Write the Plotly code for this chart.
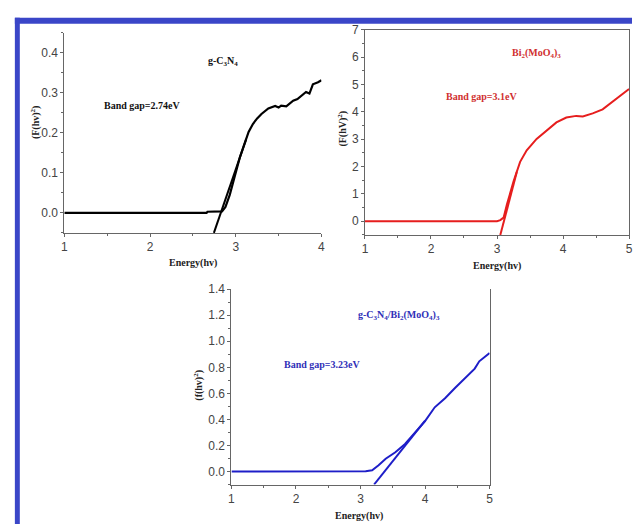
import plotly.graph_objects as go

W, H = 636, 524

# ---- data ----
gcn_energy = [1.0, 2.0, 2.66, 2.67, 2.84, 2.88, 2.93, 2.98, 3.05, 3.15, 3.20, 3.25, 3.30, 3.38, 3.46,
              3.50, 3.53, 3.59, 3.63, 3.67, 3.72, 3.75, 3.82, 3.86, 3.88, 3.90, 3.96, 4.0]
gcn_value = [0.0, 0.0, 0.0, 0.003, 0.004, 0.015, 0.045, 0.085, 0.14, 0.202, 0.222, 0.236, 0.247, 0.261,
             0.267, 0.263, 0.268, 0.266, 0.272, 0.280, 0.284, 0.290, 0.302, 0.298, 0.312, 0.321, 0.326, 0.331]
gcn_tangent_x = [2.745, 3.12]
gcn_tangent_y = [-0.05, 0.183]

bmo_energy = [1.0, 2.0, 3.0, 3.05, 3.10, 3.15, 3.25, 3.35, 3.45, 3.60, 3.75, 3.90, 4.05, 4.20, 4.30,
              4.45, 4.60, 4.70, 4.82, 5.0]
bmo_value = [0.0, 0.0, 0.0, 0.04, 0.13, 0.61, 1.45, 2.17, 2.59, 3.01, 3.31, 3.61, 3.79, 3.85, 3.83,
             3.94, 4.09, 4.27, 4.51, 4.83]
bmo_tangent_x = [3.05, 3.30]
bmo_tangent_y = [-0.5, 1.8]

comp_energy = [1.0, 2.0, 3.0, 3.08, 3.18, 3.28, 3.39, 3.54, 3.69, 3.85, 4.0, 4.15, 4.31, 4.46, 4.61,
               4.77, 4.84, 4.97, 5.0]
comp_value = [0.0, 0.0, 0.0, 0.002, 0.01, 0.048, 0.098, 0.148, 0.211, 0.30, 0.387, 0.493, 0.563, 0.639,
              0.714, 0.79, 0.846, 0.903, 0.91]
comp_tangent_x = [3.21, 4.0]
comp_tangent_y = [-0.1, 0.39]


def px(x):
    return x / W


def py(y):
    return 1 - y / H


fig = go.Figure()

BLACK = "#000000"
RED = "#e61e1e"
BLUE = "#1e1ec8"

fig.add_trace(go.Scatter(x=gcn_energy, y=gcn_value, mode="lines", line=dict(color=BLACK, width=2.2),
                         xaxis="x", yaxis="y", showlegend=False))
fig.add_trace(go.Scatter(x=gcn_tangent_x, y=gcn_tangent_y, mode="lines", line=dict(color=BLACK, width=2),
                         xaxis="x", yaxis="y", showlegend=False))
fig.add_trace(go.Scatter(x=bmo_energy, y=bmo_value, mode="lines", line=dict(color=RED, width=2),
                         xaxis="x2", yaxis="y2", showlegend=False))
fig.add_trace(go.Scatter(x=bmo_tangent_x, y=bmo_tangent_y, mode="lines", line=dict(color=RED, width=2),
                         xaxis="x2", yaxis="y2", showlegend=False))
fig.add_trace(go.Scatter(x=comp_energy, y=comp_value, mode="lines", line=dict(color=BLUE, width=2),
                         xaxis="x3", yaxis="y3", showlegend=False))
fig.add_trace(go.Scatter(x=comp_tangent_x, y=comp_tangent_y, mode="lines", line=dict(color=BLUE, width=2),
                         xaxis="x3", yaxis="y3", showlegend=False))

tickfont = dict(family="Liberation Sans, Arial", size=12, color="#444444")
AX = "#666666"


def axis_common(**kw):
    d = dict(showgrid=False, zeroline=False, showline=True, linecolor=AX, linewidth=1,
             ticks="outside", ticklen=3, tickcolor=AX, tickfont=tickfont,
             minor=dict(ticks="outside", ticklen=2, tickcolor=AX))
    d.update(kw)
    return d


fig.update_layout(
    width=W, height=H,
    margin=dict(l=0, r=0, t=0, b=0),
    paper_bgcolor="white", plot_bgcolor="white",
    xaxis=axis_common(domain=[px(62), px(322)], range=[1, 4], dtick=1, tick0=1,
                      minor=dict(ticks="outside", ticklen=2, tickcolor=AX, dtick=0.5), anchor="y"),
    yaxis=axis_common(domain=[py(229), py(26)], range=[-0.05, 0.45], dtick=0.1, tick0=0,
                      tickformat=".1f", minor=dict(ticks="outside", ticklen=2, tickcolor=AX, dtick=0.05),
                      anchor="x"),
    xaxis2=axis_common(domain=[px(366), px(633)], range=[1, 5], dtick=1, tick0=1, mirror=True,
                       minor=dict(ticks="outside", ticklen=2, tickcolor=AX, dtick=0.5), anchor="y2"),
    yaxis2=axis_common(domain=[py(231), py(23)], range=[-0.5, 7], dtick=1, tick0=0, mirror=True,
                       minor=dict(ticks="outside", ticklen=2, tickcolor=AX, dtick=0.5), anchor="x2"),
    xaxis3=axis_common(domain=[px(231), px(492)], range=[1, 5], dtick=1, tick0=1,
                       minor=dict(ticks="outside", ticklen=2, tickcolor=AX, dtick=0.5), anchor="y3"),
    yaxis3=axis_common(domain=[py(484), py(286)], range=[-0.1, 1.4], dtick=0.2, tick0=0, mirror=True,
                       tickformat=".1f", minor=dict(ticks="outside", ticklen=2, tickcolor=AX, dtick=0.1),
                       anchor="x3"),
)

# blue frame bands
BAND = "rgb(58,70,200)"
fig.add_shape(type="rect", xref="paper", yref="paper", x0=px(12), x1=px(636), y0=py(17), y1=py(11),
              fillcolor=BAND, line=dict(width=0), layer="above")
fig.add_shape(type="rect", xref="paper", yref="paper", x0=px(12), x1=px(17), y0=py(524), y1=py(11),
              fillcolor=BAND, line=dict(width=0), layer="above")

SERIF = "Liberation Serif, Times New Roman, serif"


def note(text, x, y, color, size=10, angle=0):
    fig.add_annotation(text=f"<b>{text}</b>", xref="paper", yref="paper", x=px(x), y=py(y),
                       xanchor="center", yanchor="middle", showarrow=False, textangle=angle,
                       font=dict(family=SERIF, size=size, color=color))


# axis titles
note("Energy(hv)", 192, 259, "#222222")
note("Energy(hv)", 500, 263, "#222222")
note("Energy(hv)", 360, 516, "#222222")
note("(F(hv)<sup>2</sup>)", 33, 117, "#222222", angle=-90)
note("(F(hV)<sup>2</sup>)", 343, 123, "#222222", angle=-90)
note("(f(hv)<sup>2</sup>)", 198, 383, "#222222", angle=-90)

# labels in plots
note("g-C<sub>3</sub>N<sub>4</sub>", 222, 55, "#111111")
note("Band gap=2.74eV", 141, 100, "#111111")
note("Bi<sub>2</sub>(MoO<sub>4</sub>)<sub>3</sub>", 539, 47, "#d03030")
note("Band gap=3.1eV", 484, 91, "#d03030")
note("g-C<sub>3</sub>N<sub>4</sub>/Bi<sub>2</sub>(MoO<sub>4</sub>)<sub>3</sub>", 400, 313, "#3030b8")
note("Band gap=3.23eV", 323, 362, "#3030b8")

fig.write_html("out.html")
